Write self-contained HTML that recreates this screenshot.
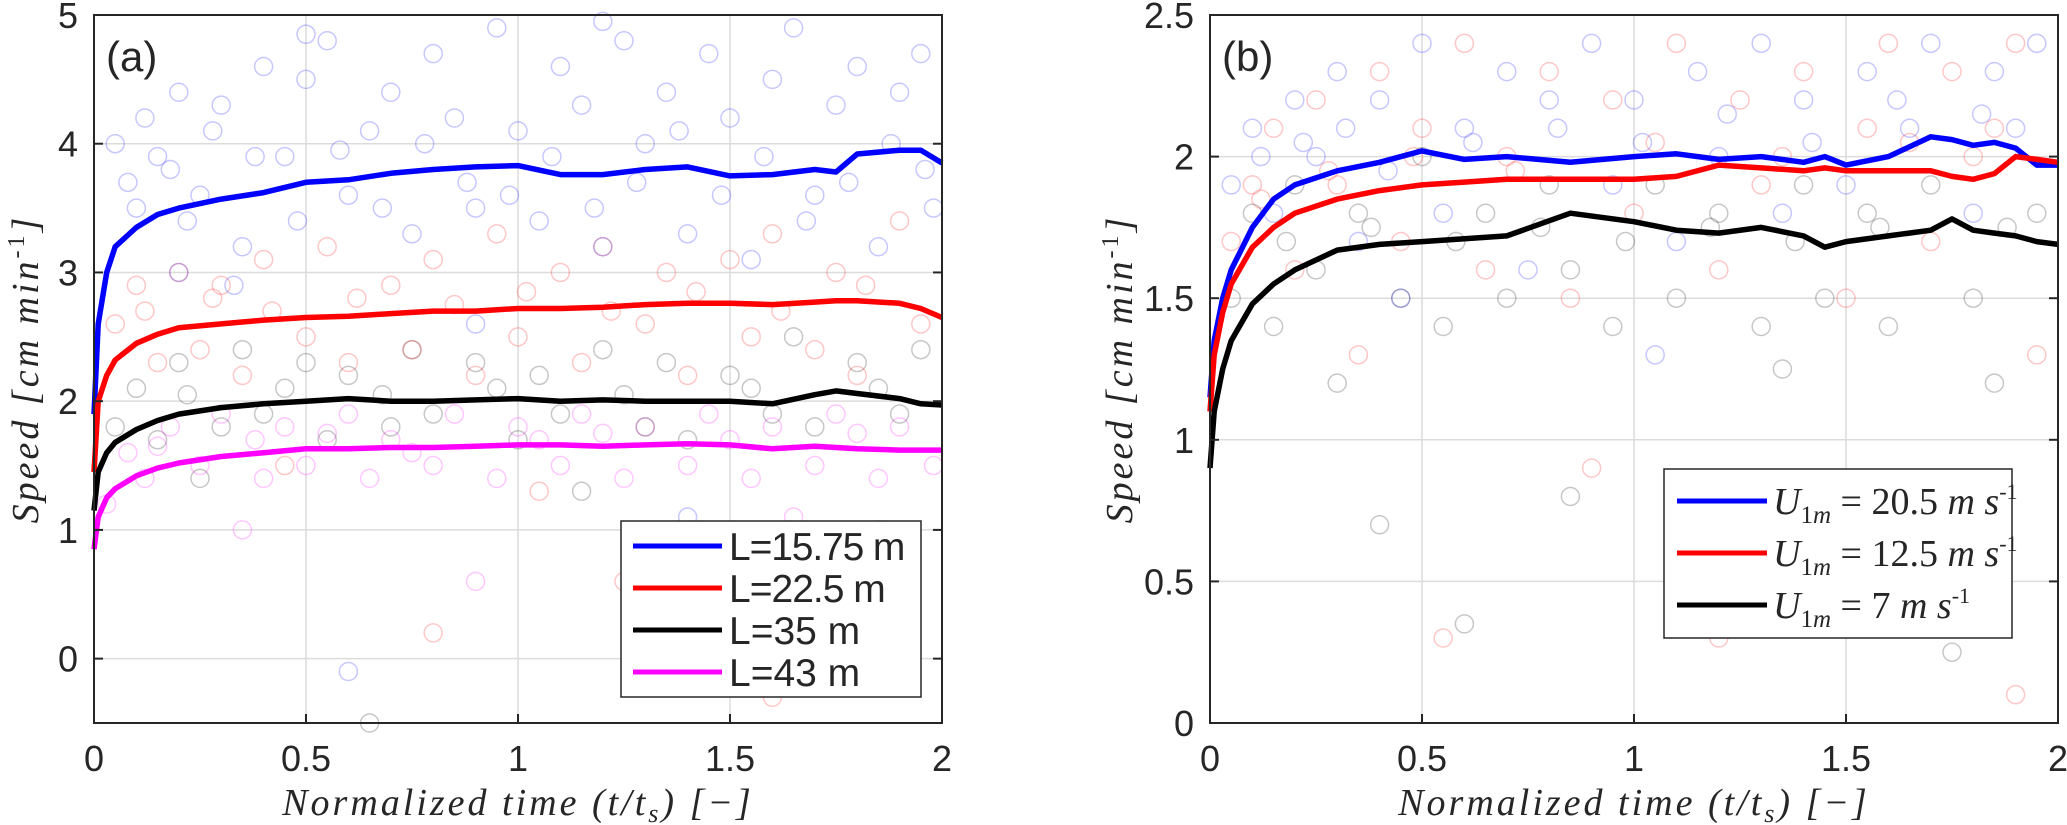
<!DOCTYPE html>
<html><head><meta charset="utf-8"><style>
body{margin:0;background:#fff}
svg{display:block}
text{font-family:"Liberation Sans",sans-serif;fill:#262626}
.it{font-family:"Liberation Serif",serif;font-style:italic}
</style></head><body>
<svg id="chart" width="2067" height="825" viewBox="0 0 2067 825" xmlns="http://www.w3.org/2000/svg"></svg>
<script>
// ---- data: panel (a) ----
const xTicks=[0,0.5,1,1.5,2];
const xTickLabels=["0","0.5","1","1.5","2"];
const aYTicks=[0,1,2,3,4,5];
const aYTickLabels=["0","1","2","3","4","5"];
const aX=[0,0.01,0.03,0.05,0.1,0.15,0.2,0.3,0.4,0.5,0.6,0.7,0.8,0.9,1.0,1.1,1.2,1.3,1.4,1.5,1.6,1.7,1.75,1.8,1.9,1.95,2.0];
const aBlue=[1.9,2.6,3.0,3.2,3.35,3.45,3.5,3.57,3.62,3.7,3.72,3.77,3.8,3.82,3.83,3.76,3.76,3.8,3.82,3.75,3.76,3.8,3.78,3.92,3.95,3.95,3.85];
const aRed=[1.45,2.0,2.2,2.32,2.45,2.52,2.57,2.6,2.63,2.65,2.66,2.68,2.7,2.7,2.72,2.72,2.73,2.75,2.76,2.76,2.75,2.77,2.78,2.78,2.76,2.72,2.65];
const aBlack=[1.15,1.45,1.6,1.68,1.78,1.85,1.9,1.95,1.98,2.0,2.02,2.0,2.0,2.01,2.02,2.0,2.01,2.0,2.0,2.0,1.98,2.05,2.08,2.06,2.02,1.98,1.97];
const aMag=[0.85,1.1,1.25,1.32,1.42,1.48,1.52,1.57,1.6,1.63,1.63,1.64,1.64,1.65,1.66,1.66,1.65,1.66,1.67,1.66,1.63,1.65,1.64,1.63,1.62,1.62,1.62];
const aLegend=["L=15.75 m","L=22.5 m","L=35 m","L=43 m"];
const aScatBlue=[[0.05,4.0],[0.08,3.7],[0.12,4.2],[0.15,3.9],[0.2,4.4],[0.22,3.4],[0.28,4.1],[0.3,4.3],[0.35,3.2],[0.4,4.6],[0.45,3.9],[0.5,4.5],[0.55,4.8],[0.6,3.6],[0.65,4.1],[0.7,4.4],[0.75,3.3],[0.8,4.7],[0.85,4.2],[0.9,3.5],[0.95,4.9],[1.0,4.1],[1.05,3.4],[1.1,4.6],[1.15,4.3],[1.2,3.2],[1.25,4.8],[1.3,4.0],[1.35,4.4],[1.4,3.3],[1.45,4.7],[1.5,4.2],[1.55,3.1],[1.6,4.5],[1.65,4.9],[1.7,3.6],[1.75,4.3],[1.8,4.6],[1.85,3.2],[1.9,4.4],[1.95,4.7],[1.98,3.5],[0.33,2.9],[0.9,2.6],[1.4,1.1],[0.6,-0.1],[1.7,0.4],[0.2,3.0],[1.2,4.95],[0.5,4.85],[0.1,3.5],[0.18,3.8],[0.25,3.6],[0.38,3.9],[0.48,3.4],[0.58,3.95],[0.68,3.5],[0.78,4.0],[0.88,3.7],[0.98,3.6],[1.08,3.9],[1.18,3.5],[1.28,3.7],[1.38,4.1],[1.48,3.6],[1.58,3.9],[1.68,3.4],[1.78,3.7],[1.88,4.0],[1.96,3.8]];
const aScatRed=[[0.05,2.6],[0.1,2.9],[0.15,2.3],[0.2,3.0],[0.25,2.4],[0.3,2.9],[0.35,2.2],[0.4,3.1],[0.5,2.5],[0.55,3.2],[0.6,2.3],[0.7,2.9],[0.75,2.4],[0.8,3.1],[0.9,2.2],[0.95,3.3],[1.0,2.5],[1.1,3.0],[1.15,2.3],[1.2,3.2],[1.3,2.6],[1.35,3.0],[1.4,2.2],[1.5,3.1],[1.55,2.5],[1.6,3.3],[1.7,2.4],[1.75,3.0],[1.8,2.2],[1.9,3.4],[1.95,2.6],[0.45,1.5],[1.05,1.3],[1.25,0.6],[0.8,0.2],[1.6,-0.3],[1.85,1.0],[0.12,2.7],[0.28,2.8],[0.42,2.7],[0.62,2.8],[0.85,2.75],[1.02,2.85],[1.22,2.7],[1.42,2.85],[1.62,2.7],[1.82,2.9]];
const aScatBlack=[[0.05,1.8],[0.1,2.1],[0.15,1.7],[0.2,2.3],[0.3,1.8],[0.35,2.4],[0.4,1.9],[0.5,2.3],[0.55,1.7],[0.6,2.2],[0.7,1.8],[0.75,2.4],[0.8,1.9],[0.9,2.3],[1.0,1.7],[1.05,2.2],[1.1,1.9],[1.2,2.4],[1.3,1.8],[1.35,2.3],[1.4,1.7],[1.5,2.2],[1.6,1.9],[1.65,2.5],[1.7,1.8],[1.8,2.3],[1.9,1.9],[1.95,2.4],[0.25,1.4],[1.15,1.3],[0.65,-0.5],[1.45,0.9],[0.22,2.05],[0.45,2.1],[0.68,2.05],[0.95,2.1],[1.25,2.05],[1.55,2.1],[1.85,2.1]];
const aScatMag=[[0.03,1.2],[0.08,1.6],[0.12,1.4],[0.18,1.8],[0.25,1.5],[0.3,1.9],[0.4,1.4],[0.45,1.8],[0.5,1.5],[0.6,1.9],[0.65,1.4],[0.7,1.7],[0.8,1.5],[0.85,1.9],[0.95,1.4],[1.0,1.8],[1.1,1.5],[1.15,1.9],[1.25,1.4],[1.3,1.8],[1.4,1.5],[1.45,1.9],[1.55,1.4],[1.6,1.8],[1.7,1.5],[1.75,1.9],[1.85,1.4],[1.9,1.8],[1.98,1.5],[0.35,1.0],[0.9,0.6],[1.35,0.4],[1.65,1.1],[0.15,1.65],[0.38,1.7],[0.55,1.75],[0.75,1.6],[1.05,1.7],[1.2,1.75],[1.5,1.7],[1.8,1.75]];
// ---- data: panel (b) ----
const bYTicks=[0,0.5,1,1.5,2,2.5];
const bYTickLabels=["0","0.5","1","1.5","2","2.5"];
const bX=[0,0.01,0.03,0.05,0.1,0.15,0.2,0.3,0.4,0.5,0.6,0.7,0.85,1.0,1.1,1.2,1.3,1.4,1.45,1.5,1.6,1.7,1.75,1.8,1.85,1.9,1.95,2.0];
const bBlue=[1.15,1.35,1.5,1.6,1.75,1.85,1.9,1.95,1.98,2.02,1.99,2.0,1.98,2.0,2.01,1.99,2.0,1.98,2.0,1.97,2.0,2.07,2.06,2.04,2.05,2.03,1.97,1.97];
const bRed=[1.1,1.3,1.45,1.55,1.68,1.75,1.8,1.85,1.88,1.9,1.91,1.92,1.92,1.92,1.93,1.97,1.96,1.95,1.96,1.95,1.95,1.95,1.93,1.92,1.94,2.0,1.99,1.98];
const bBlack=[0.9,1.1,1.25,1.35,1.48,1.55,1.6,1.67,1.69,1.7,1.71,1.72,1.8,1.77,1.74,1.73,1.75,1.72,1.68,1.7,1.72,1.74,1.78,1.74,1.73,1.72,1.7,1.69];
const bLegendVals=["20.5","12.5","7"];
const bScatBlue=[[0.05,1.9],[0.1,2.1],[0.15,1.8],[0.2,2.2],[0.25,2.0],[0.3,2.3],[0.35,1.7],[0.4,2.2],[0.5,2.4],[0.55,1.8],[0.6,2.1],[0.7,2.3],[0.75,1.6],[0.8,2.2],[0.9,2.4],[0.95,1.9],[1.0,2.2],[1.1,1.7],[1.15,2.3],[1.2,2.0],[1.3,2.4],[1.35,1.8],[1.4,2.2],[1.5,1.9],[1.55,2.3],[1.6,0.8],[1.65,2.1],[1.7,2.4],[1.8,1.8],[1.85,2.3],[1.9,2.1],[1.95,2.4],[0.45,1.5],[1.05,1.3],[0.12,2.0],[0.22,2.05],[0.32,2.1],[0.42,1.95],[0.62,2.05],[0.82,2.1],[1.02,2.05],[1.22,2.15],[1.42,2.05],[1.62,2.2],[1.82,2.15]];
const bScatRed=[[0.05,1.7],[0.1,1.9],[0.15,2.1],[0.2,1.6],[0.25,2.2],[0.3,1.9],[0.4,2.3],[0.45,1.7],[0.5,2.1],[0.6,2.4],[0.65,1.6],[0.7,2.0],[0.8,2.3],[0.85,1.5],[0.95,2.2],[1.0,1.8],[1.1,2.4],[1.2,1.6],[1.25,2.2],[1.3,1.9],[1.4,2.3],[1.5,1.5],[1.55,2.1],[1.6,2.4],[1.7,1.7],[1.75,2.3],[1.8,2.0],[1.9,2.4],[1.95,1.3],[0.35,1.3],[0.55,0.3],[1.2,0.3],[1.45,0.8],[1.9,0.1],[0.9,0.9],[0.12,1.85],[0.28,1.95],[0.48,2.0],[0.72,1.95],[1.05,2.05],[1.35,2.0],[1.65,2.05],[1.85,2.1]];
const bScatBlack=[[0.05,1.5],[0.1,1.8],[0.15,1.4],[0.2,1.9],[0.25,1.6],[0.3,1.2],[0.35,1.8],[0.45,1.5],[0.5,2.0],[0.55,1.4],[0.65,1.8],[0.7,1.5],[0.8,1.9],[0.85,1.6],[0.95,1.4],[1.05,1.9],[1.1,1.5],[1.2,1.8],[1.3,1.4],[1.4,1.9],[1.45,1.5],[1.55,1.8],[1.6,1.4],[1.7,1.9],[1.8,1.5],[1.85,1.2],[1.95,1.8],[0.4,0.7],[0.85,0.8],[1.4,0.65],[1.75,0.25],[0.6,0.35],[1.35,1.25],[0.18,1.7],[0.38,1.75],[0.58,1.7],[0.78,1.75],[0.98,1.7],[1.18,1.75],[1.38,1.7],[1.58,1.75],[1.88,1.75]];

const NS="http://www.w3.org/2000/svg";
const svg=document.getElementById('chart');
function el(tag,attrs,parent){const e=document.createElementNS(NS,tag);for(const k in attrs)e.setAttribute(k,attrs[k]);(parent||svg).appendChild(e);return e;}

function panel(cfg){
  const L=cfg.left,T=15,B=723,W=848,R=L+W;
  const sx=v=>L+v/2*W;
  const sy=v=>B-(v-cfg.ymin)/(cfg.ymax-cfg.ymin)*(B-T);
  const g=el('g',{});
  
  
  el('rect',{x:L,y:T,width:W,height:B-T,fill:'#fff'},g);
  xTicks.forEach(t=>{const l=el('line',{x1:sx(t),x2:sx(t),y1:T,y2:B,stroke:'#dcdcdc','stroke-width':1.5},g);
    });
  cfg.yTicks.forEach(t=>{const l=el('line',{x1:L,x2:R,y1:sy(t),y2:sy(t),stroke:'#dcdcdc','stroke-width':1.5},g);
    });
  cfg.scat.forEach(s=>{s.pts.forEach(p=>{const c=el('circle',{cx:sx(p[0]),cy:sy(p[1]),r:9,fill:'none',stroke:s.color,'stroke-opacity':0.22,'stroke-width':1.5},g);
    });});
  cfg.lines.forEach(s=>{const d=s.xs.map((x,i)=>(i?'L':'M')+sx(x).toFixed(1)+','+sy(s.ys[i]).toFixed(1)).join('');
    const p=el('path',{d:d,fill:'none',stroke:s.color,'stroke-width':5.5,'stroke-linejoin':'round'},g);
    });
  const bx=el('rect',{x:L,y:T,width:W,height:B-T,fill:'none',stroke:'#262626','stroke-width':2},g);
  
  xTicks.forEach((t,i)=>{el('line',{x1:sx(t),x2:sx(t),y1:B,y2:B-9,stroke:'#262626','stroke-width':2},g);
    const tx=el('text',{x:sx(t),y:B+48,'font-size':36,'text-anchor':'middle'},g);tx.textContent=xTickLabels[i];
    });
  cfg.yTicks.forEach((t,i)=>{el('line',{x1:L,x2:L+9,y1:sy(t),y2:sy(t),stroke:'#262626','stroke-width':2},g);
    el('line',{x1:R,x2:R-9,y1:sy(t),y2:sy(t),stroke:'#262626','stroke-width':2},g);
    const tx=el('text',{x:L-16,y:sy(t)+13,'font-size':36,'text-anchor':'end'},g);tx.textContent=cfg.yLabels[i];
    });
  const pl=el('text',{x:L+12,y:T+56,'font-size':42},g);pl.textContent=cfg.tag;
  
  const xl=el('text',{x:L+W/2,y:815,'font-size':38,'text-anchor':'middle',class:'it','letter-spacing':3},g);
  xl.innerHTML='Normalized  time  (t/t<tspan font-size="26" dy="7">s</tspan><tspan dy="-7">)  [−]</tspan>';
  
  const yl=el('text',{x:0,y:0,'font-size':38,'text-anchor':'middle',class:'it','letter-spacing':3,transform:`translate(${cfg.ylx},${(T+B)/2}) rotate(-90)`},g);
  yl.innerHTML='Speed  [cm  min<tspan font-size="24" dy="-14" style="font-style:normal">-1</tspan><tspan dy="14">]</tspan>';
  
  return {g,sx,sy};
}

const pa=panel({name:'panel-a',left:94,ymin:-0.5,ymax:5,yTicks:aYTicks,yLabels:aYTickLabels,tag:'(a)',ylx:38,
  scat:[{pts:aScatMag,color:'#ff00ff',name:'scatter-l43'},{pts:aScatBlack,color:'#000',name:'scatter-l35'},{pts:aScatRed,color:'#ff0000',name:'scatter-l22'},{pts:aScatBlue,color:'#0000ff',name:'scatter-l15'}],
  lines:[{xs:aX,ys:aBlue,color:'#0000ff',name:'line-l15'},{xs:aX,ys:aRed,color:'#ff0000',name:'line-l22'},{xs:aX,ys:aBlack,color:'#000',name:'line-l35'},{xs:aX,ys:aMag,color:'#ff00ff',name:'line-l43'}]});
{const lg=el('g',{},pa.g);
 el('rect',{x:621,y:521,width:300,height:176,fill:'#fff',stroke:'#262626','stroke-width':1.5},lg);
 const cols=['#0000ff','#ff0000','#000','#ff00ff'];
 aLegend.forEach((t,i)=>{const y=546+i*42;
  el('line',{x1:633,x2:722,y1:y,y2:y,stroke:cols[i],'stroke-width':5},lg);
  const tx=el('text',{x:729,y:y+14,'font-size':39,textLength:t.length>7?(t.length*19.6):0},lg);tx.textContent=t;
  if(!(t.length>7))tx.removeAttribute('textLength');
  });}

const pb=panel({name:'panel-b',left:1210,ymin:0,ymax:2.5,yTicks:bYTicks,yLabels:bYTickLabels,tag:'(b)',ylx:1132,
  scat:[{pts:bScatBlack,color:'#000',name:'scatter-u7'},{pts:bScatRed,color:'#ff0000',name:'scatter-u12'},{pts:bScatBlue,color:'#0000ff',name:'scatter-u20'}],
  lines:[{xs:bX,ys:bBlue,color:'#0000ff',name:'line-u20'},{xs:bX,ys:bRed,color:'#ff0000',name:'line-u12'},{xs:bX,ys:bBlack,color:'#000',name:'line-u7'}]});
{const lg=el('g',{},pb.g);
 el('rect',{x:1664,y:469,width:348,height:169,fill:'#fff',stroke:'#262626','stroke-width':1.5},lg);
 const cols=['#0000ff','#ff0000','#000'];
 bLegendVals.forEach((v,i)=>{const y=501+i*52;
  el('line',{x1:1677,x2:1767,y1:y,y2:y,stroke:cols[i],'stroke-width':5},lg);
  const tx=el('text',{x:1773,y:y+13,'font-size':38,class:'it'},lg);
  tx.innerHTML='U<tspan font-size="25" dy="9" style="font-style:normal">1</tspan><tspan font-size="25">m</tspan><tspan dy="-9" style="font-style:normal"> = '+v+' </tspan>m s<tspan font-size="22" dy="-15" style="font-style:normal">-1</tspan>';
  });}
</script>
</body></html>
